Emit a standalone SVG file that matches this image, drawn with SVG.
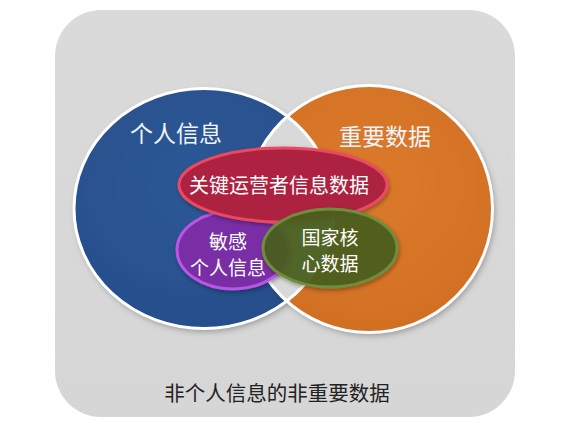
<svg xmlns="http://www.w3.org/2000/svg" width="567" height="432" viewBox="0 0 567 432">
  <style>
    text { font-family: "Noto Sans CJK SC", "Noto Sans", sans-serif; text-anchor: middle; dominant-baseline: central; }
    .lbl { fill: #ffffff; font-size: 19px; }
    .big { fill: #f1f4fa; font-size: 23px; }
    .outer { fill: #222222; font-size: 20.5px; }
    .ring { fill: none; stroke: #ffffff; stroke-width: 3; }
  </style>
  <defs>
    <filter id="sh" x="-20%" y="-20%" width="140%" height="140%">
      <feDropShadow dx="2" dy="3" stdDeviation="3" flood-color="#000000" flood-opacity="0.3"/>
    </filter>
    <filter id="sh2" x="-20%" y="-20%" width="140%" height="140%">
      <feDropShadow dx="1" dy="2" stdDeviation="2" flood-color="#000000" flood-opacity="0.35"/>
    </filter>
    <radialGradient id="gBlue" cx="0.45" cy="0.4" r="0.7">
      <stop offset="0" stop-color="#2d5896"/>
      <stop offset="1" stop-color="#264d8a"/>
    </radialGradient>
    <radialGradient id="gOrange" cx="0.5" cy="0.4" r="0.7">
      <stop offset="0" stop-color="#dc7a2c"/>
      <stop offset="1" stop-color="#d06e22"/>
    </radialGradient>
    <linearGradient id="gBg" x1="0" y1="0" x2="0" y2="1">
      <stop offset="0" stop-color="#dadada"/>
      <stop offset="1" stop-color="#d6d6d6"/>
    </linearGradient>
    <clipPath id="clipBlue">
      <ellipse cx="204" cy="208.5" rx="130" ry="120"/>
    </clipPath>
  </defs>

  <rect x="0" y="0" width="567" height="432" fill="#ffffff"/>

  <g id="background">
    <rect x="55" y="10" width="460" height="407" rx="46" ry="46" fill="url(#gBg)"/>
    <text class="outer" x="277" y="392">非个人信息的非重要数据</text>
  </g>

  <g id="personal-info">
    <ellipse cx="204" cy="208.5" rx="130" ry="120" fill="url(#gBlue)" filter="url(#sh)"/>
  </g>

  <g id="important-data">
    <circle cx="369" cy="209" r="123.5" fill="url(#gOrange)" filter="url(#sh)"/>
  </g>

  <g id="overlap-lens">
    <circle cx="369" cy="209" r="123.5" fill="#d9d9d9" clip-path="url(#clipBlue)"/>
    <ellipse class="ring" cx="204" cy="208.5" rx="130" ry="120"/>
    <circle class="ring" cx="369" cy="209" r="123.5"/>
  </g>

  <g id="label-personal">
    <text class="big" x="176" y="132">个人信息</text>
  </g>
  <g id="label-important">
    <text class="big" x="385" y="135">重要数据</text>
  </g>

  <g id="sensitive-personal-info">
    <ellipse cx="233" cy="250" rx="56" ry="39" fill="#7a2fa6" stroke="#bb55e6" stroke-width="3" filter="url(#sh2)"/>
    <text class="lbl" x="228" y="240">敏感</text>
    <text class="lbl" x="228" y="266">个人信息</text>
  </g>

  <g id="cii-operator-data">
    <ellipse cx="283" cy="185" rx="104" ry="37" fill="#ad2240" stroke="#ea4862" stroke-width="3" filter="url(#sh2)"/>
    <text class="lbl" x="279" y="184" style="font-size:20px">关键运营者信息数据</text>
  </g>

  <g id="national-core-data">
    <ellipse cx="330" cy="248" rx="67" ry="39" fill="#4a5e1c" fill-opacity="0.92" stroke="#708c3c" stroke-width="3" filter="url(#sh2)"/>
    <text class="lbl" x="330" y="236">国家核</text>
    <text class="lbl" x="330" y="262">心数据</text>
  </g>
</svg>
